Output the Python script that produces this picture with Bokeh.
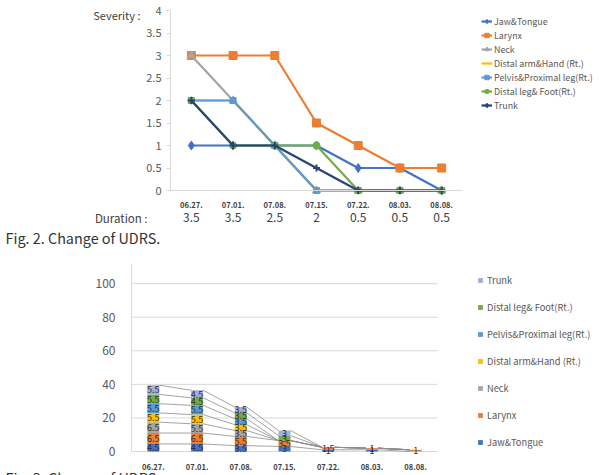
from bokeh.plotting import figure
from bokeh.models import (Range1d, FixedTicker, Legend, LegendItem, Label,
                          LabelSet, ColumnDataSource, CustomJSTickFormatter, LinearAxis)
from bokeh.core.properties import value
from bokeh.layouts import column
from bokeh.embed import file_html
from bokeh.resources import INLINE
import numpy as np

# ---------------- data ----------------
dates = ["06.27.", "07.01.", "07.08.", "07.15.", "07.22.", "08.03.", "08.08."]
duration = ["3.5", "3.5", "2.5", "2", "0.5", "0.5", "0.5"]
names = ["Jaw&Tongue", "Larynx", "Neck", "Distal arm&Hand (Rt.)",
         "Pelvis&Proximal leg(Rt.)", "Distal leg& Foot(Rt.)", "Trunk"]

# Fig. 2 - severity per body part
sev_jaw = [1, 1, 1, 1, 0.5, 0.5, 0]
sev_larynx = [3, 3, 3, 1.5, 1, 0.5, 0.5]
sev_neck = [3, 2, 1, 0, 0, 0, 0]
sev_arm = [2, 2, 1, 0, 0, 0, 0]
sev_pelvis = [2, 2, 1, 0, 0, 0, 0]
sev_leg = [2, 1, 1, 1, 0, 0, 0]
sev_trunk = [2, 1, 1, 0.5, 0, 0, 0]

# Fig. 3 - stacked values
st_jaw = [4.5, 4.5, 3.5, 3, 1, 1, 0]
st_larynx = [6.5, 6.5, 5.5, 3.5, 1.5, 1, 1]
st_neck = [6.5, 5.5, 3.5, 0, 0, 0, 0]
st_arm = [5.5, 5.5, 3.5, 0, 0, 0, 0]
st_pelvis = [5.5, 5.5, 3.5, 0, 0, 0, 0]
st_leg = [5.5, 4.5, 3.5, 3, 0, 0, 0]
st_trunk = [5.5, 4.5, 3.5, 3, 0, 0, 0]

sev_ticks = [0, 0.5, 1, 1.5, 2, 2.5, 3, 3.5, 4]
bar_ticks = [0, 20, 40, 60, 80, 100]

sev_series = [sev_jaw, sev_larynx, sev_neck, sev_arm, sev_pelvis, sev_leg, sev_trunk]
st_series = [st_jaw, st_larynx, st_neck, st_arm, st_pelvis, st_leg, st_trunk]

line_colors = ["#4472C4", "#ED7D31", "#A5A5A5", "#FFC000", "#5B9BD5", "#70AD47", "#264478"]
bar_colors = ["#4472C4", "#ED7D31", "#A5A5A5", "#FFC000", "#5B9BD5", "#70AD47", "#A3ACDB"]
markers = ["diamond", "square", "triangle", None, "square", "circle", "cross"]
msizes = [9, 8, 8, 0, 6, 7, 7]

FONT = "Noto Sans CJK KR"
CAP = "Noto Sans CJK KR"
xs = list(range(len(dates)))
fmt = CustomJSTickFormatter(code="return tick.toString()")

# ---------------- Fig. 2 (line chart) ----------------
W1, H1 = 599, 250
FL, FR, FT, FB = 170, 462, 10, 190          # plot box in pixels
ux = (FR - FL) / 7.0
uy = (FB - FT) / 4.0
x_rng = Range1d(-0.5 - FL / ux, 6.5 + (W1 - FR) / ux)
y_rng = Range1d(-(H1 - FB) / uy, 4 + FT / uy)

p1 = figure(width=W1, height=H1, x_range=x_rng, y_range=y_rng,
            output_backend="svg", toolbar_location=None,
            x_axis_location=None, y_axis_location=None, min_border=0)
p1.outline_line_color = None
p1.grid.visible = False

ya = LinearAxis(fixed_location=-0.5, bounds=(0, 4), ticker=FixedTicker(ticks=sev_ticks),
                formatter=fmt)
ya.axis_line_color = "#D9D9D9"
ya.major_tick_line_color = "#D9D9D9"
ya.major_tick_out = 4
ya.major_tick_in = 0
ya.minor_tick_line_color = None
ya.major_label_text_font = FONT
ya.major_label_text_font_size = "11px"
ya.major_label_text_color = "#595959"
ya.major_label_standoff = 5
p1.add_layout(ya, "left")

xa = LinearAxis(fixed_location=0, bounds=(-0.5, 6.5), ticker=FixedTicker(ticks=xs))
xa.major_label_overrides = {i: d for i, d in enumerate(dates)}
xa.axis_line_color = "#D9D9D9"
xa.major_tick_line_color = None
xa.minor_tick_line_color = None
xa.major_label_text_font = FONT
xa.major_label_text_font_size = "7.5px"
xa.major_label_text_font_style = "bold"
xa.major_label_text_color = "#404040"
xa.major_label_standoff = 5
p1.add_layout(xa, "below")

items1 = []
for name, ys, c, m, s in zip(names, sev_series, line_colors, markers, msizes):
    rs = [p1.line(xs, ys, line_color=c, line_width=2.2)]
    if m is not None:
        if m == "cross":
            rs.append(p1.scatter(xs, ys, marker=m, size=s, line_color=c, line_width=2))
        else:
            rs.append(p1.scatter(xs, ys, marker=m, size=s, fill_color=c, line_color=c))
    items1.append(LegendItem(label=name, renderers=rs))

leg1 = Legend(items=items1, location=(481, 138), orientation="vertical",
              glyph_width=11, glyph_height=14, label_height=14, spacing=0,
              label_standoff=2, padding=0, margin=0,
              border_line_color=None, background_fill_alpha=0,
              label_text_font=FONT, label_text_font_size="8.9px",
              label_text_color="#595959")
p1.add_layout(leg1)

p1.add_layout(Label(x=-1.22, y=3.89, text="Severity :", text_align="right",
                    text_baseline="middle", text_font=FONT, text_font_size="11px",
                    text_color="#404040"))
p1.add_layout(Label(x=-1.05, y=-0.6, text="Duration :", text_align="right",
                    text_baseline="middle", text_font=FONT, text_font_size="11.5px",
                    text_color="#404040"))
dur_src = ColumnDataSource(dict(x=xs, y=[-0.6] * len(xs), t=duration))
p1.add_layout(LabelSet(x="x", y="y", text="t", source=dur_src, text_align="center",
                       text_baseline="middle", text_font=value(FONT), text_font_size="12px",
                       text_color="#404040"))
p1.add_layout(Label(x=-0.5 - (FL - 5) / ux, y=-(237 - FB) / uy, text="Fig. 2. Change of UDRS.",
                    text_align="left", text_baseline="alphabetic", text_font=CAP,
                    text_font_size="14.4px", text_color="#333333"))

# ---------------- Fig. 3 (stacked bars) ----------------
W2, H2 = 599, 225
GL, GR, GT, GB = 131, 437, 13, 201
YMAX = 112
vx = (GR - GL) / 7.0
vy = (GB - GT) / YMAX
BW = 12 / vx
x_rng2 = Range1d(-0.5 - GL / vx, 6.5 + (W2 - GR) / vx)
y_rng2 = Range1d(-(H2 - GB) / vy, YMAX + GT / vy)

p2 = figure(width=W2, height=H2, x_range=x_rng2, y_range=y_rng2,
            output_backend="svg", toolbar_location=None,
            x_axis_location=None, y_axis_location=None, min_border=0)
p2.outline_line_color = None
p2.grid.visible = False

# horizontal gridlines
p2.segment(x0=[-0.5] * len(bar_ticks), x1=[6.5] * len(bar_ticks), y0=bar_ticks, y1=bar_ticks,
           line_color="#D9D9D9", line_width=1)

ya2 = LinearAxis(fixed_location=-0.5, bounds=(0, YMAX), ticker=FixedTicker(ticks=bar_ticks),
                 formatter=fmt)
ya2.axis_line_color = "#D9D9D9"
ya2.major_tick_line_color = None
ya2.minor_tick_line_color = None
ya2.major_label_text_font = FONT
ya2.major_label_text_font_size = "12px"
ya2.major_label_text_color = "#595959"
ya2.major_label_standoff = 10
p2.add_layout(ya2, "left")

xa2 = LinearAxis(fixed_location=0, bounds=(-0.5, 6.5), ticker=FixedTicker(ticks=xs))
xa2.major_label_overrides = {i: d for i, d in enumerate(dates)}
xa2.axis_line_color = None
xa2.major_tick_line_color = None
xa2.minor_tick_line_color = None
xa2.major_label_text_font = FONT
xa2.major_label_text_font_size = "7.5px"
xa2.major_label_text_font_style = "bold"
xa2.major_label_text_color = "#404040"
xa2.major_label_standoff = 6
p2.add_layout(xa2, "below")

arr = np.array(st_series, dtype=float)
tops = np.cumsum(arr, axis=0)
bots = tops - arr

# series lines joining the tops of each series
sx0, sx1, sy0, sy1 = [], [], [], []
for k in range(arr.shape[0]):
    for i in range(len(xs) - 1):
        sx0.append(xs[i] + BW / 2)
        sx1.append(xs[i + 1] - BW / 2)
        sy0.append(tops[k, i])
        sy1.append(tops[k, i + 1])
p2.segment(x0=sx0, y0=sy0, x1=sx1, y1=sy1, line_color="#8C8C8C", line_width=0.8)

bar_items = []
for k, (name, c) in enumerate(zip(names, bar_colors)):
    r = p2.vbar(x=xs, bottom=bots[k], top=tops[k], width=BW, fill_color=c, line_color=None)
    bar_items.append(LegendItem(label=name, renderers=[r]))

lx, ly, lt = [], [], []
for k in range(arr.shape[0]):
    for i in range(len(xs)):
        v = arr[k, i]
        if v > 0:
            lx.append(xs[i])
            ly.append(bots[k, i] + v / 2)
            lt.append(f"{v:g}")
p2.add_layout(LabelSet(x="x", y="y", text="t", source=ColumnDataSource(dict(x=lx, y=ly, t=lt)),
                       text_align="center", text_baseline="middle", text_font=value(FONT),
                       text_font_size="9px", text_color="#2F2F2F"))

leg2 = Legend(items=list(reversed(bar_items)), location=(477, 25), orientation="vertical",
              glyph_width=6, glyph_height=6, label_height=16, spacing=11,
              label_standoff=4, padding=0, margin=0,
              border_line_color=None, background_fill_alpha=0,
              label_text_font=FONT, label_text_font_size="9.3px",
              label_text_color="#595959")
p2.add_layout(leg2)

p2.add_layout(Label(x=-0.5 - (GL - 5) / vx, y=-(216 - GB) / vy, text="Fig. 3. Change of UDRS.",
                    text_align="left", text_baseline="top", text_font=CAP,
                    text_font_size="14.4px", text_color="#333333"))

layout = column(p1, p2, spacing=0)
open("out.html", "w").write(file_html(layout, INLINE))
